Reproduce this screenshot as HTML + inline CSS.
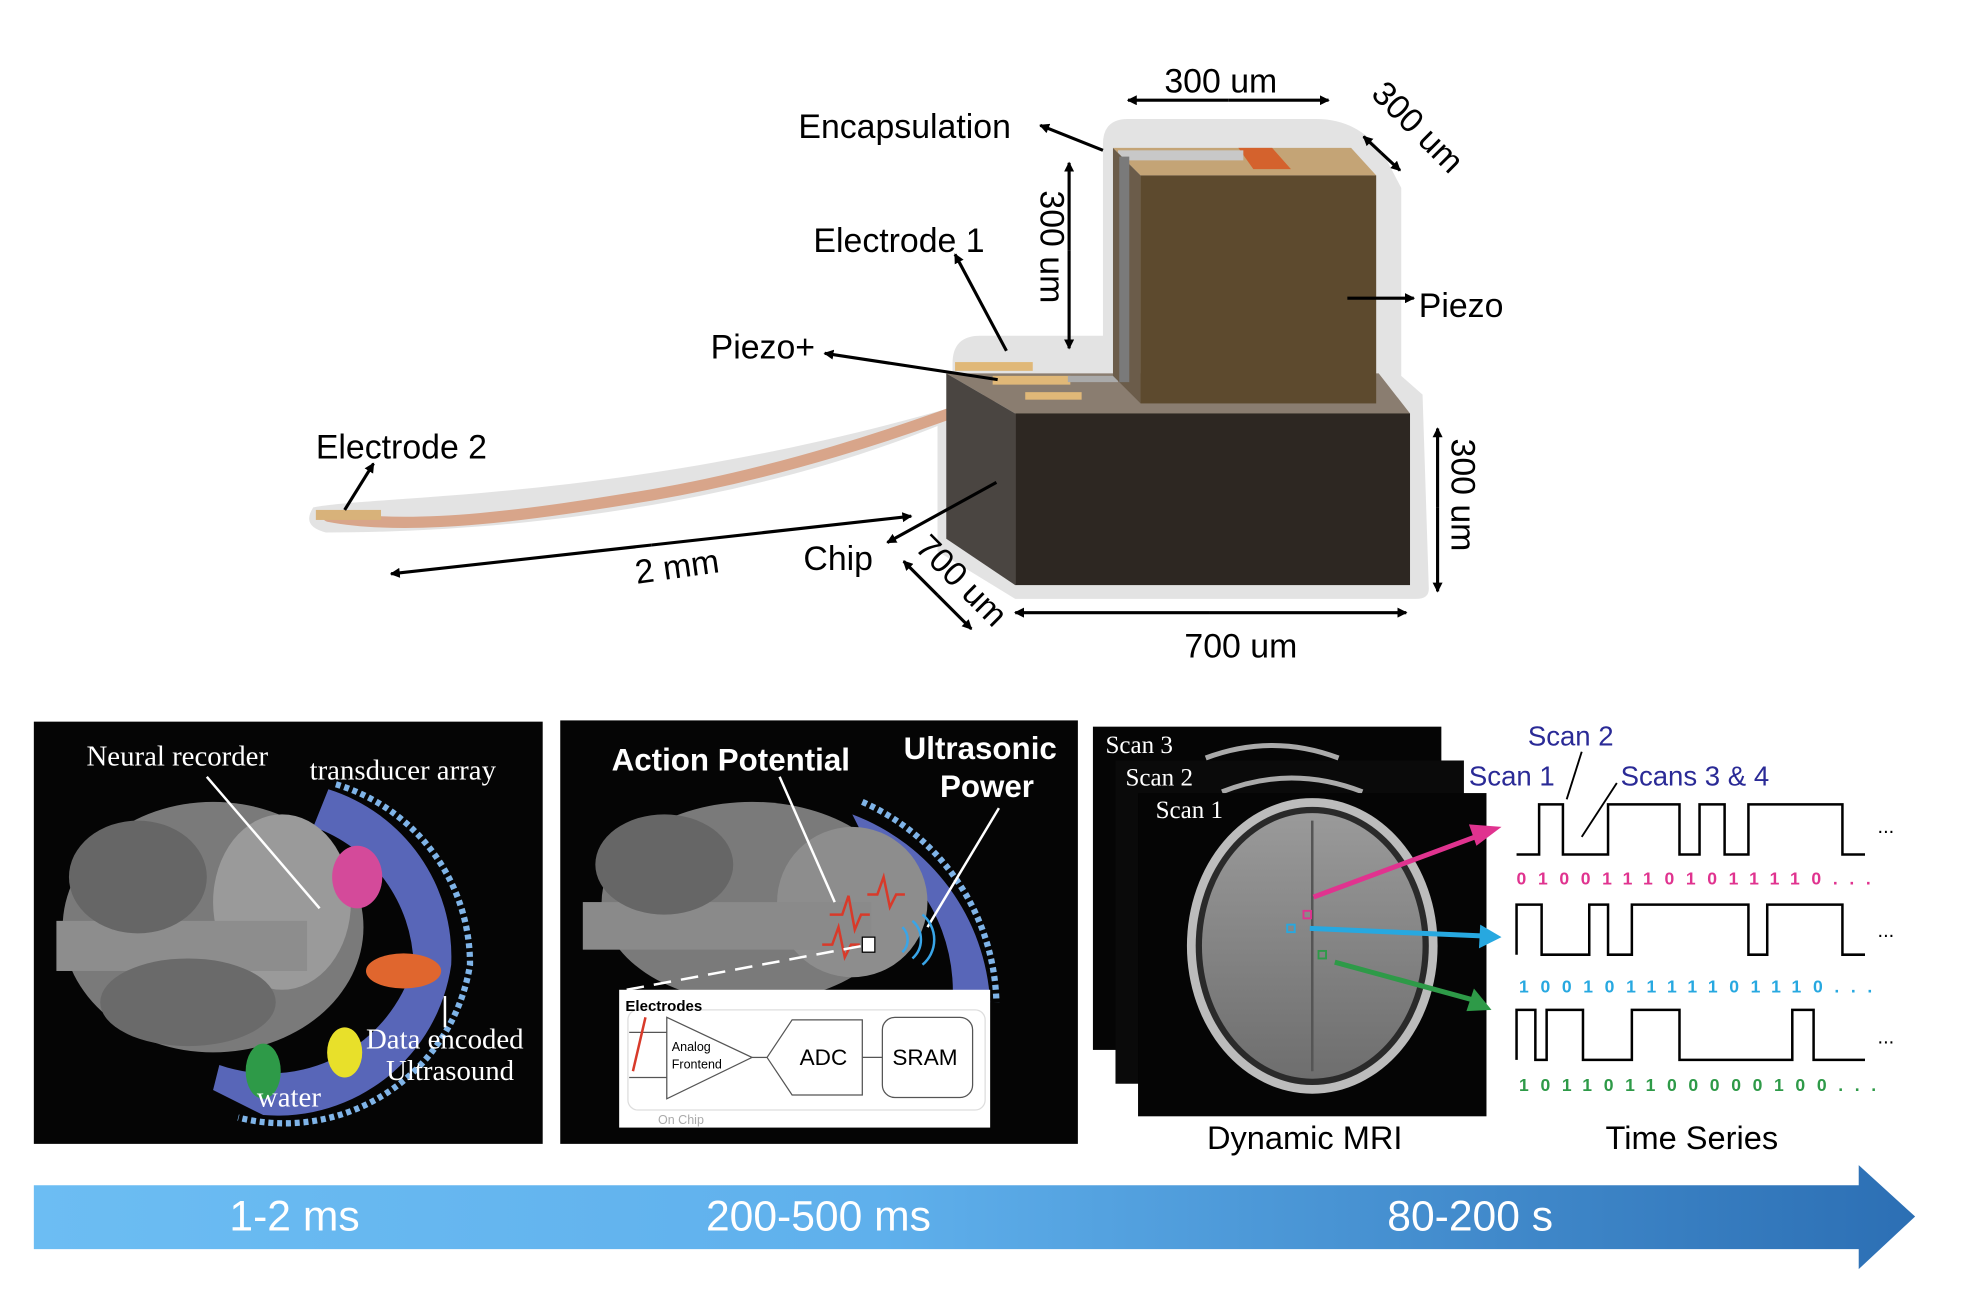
<!DOCTYPE html>
<html><head><meta charset="utf-8"><style>
html,body{margin:0;padding:0;background:#fff;width:1964px;height:1308px;overflow:hidden}
svg{display:block}
text{font-family:"Liberation Sans",sans-serif}
.s{font-family:"Liberation Serif",serif}
</style></head><body>
<svg width="1964" height="1308" viewBox="0 0 1567 1044" preserveAspectRatio="none">
<defs>
<marker id="ah" markerWidth="8" markerHeight="8" refX="7" refY="4" orient="auto" markerUnits="userSpaceOnUse"><path d="M0,0 L8,4 L0,8 z" fill="#000"/></marker>
<linearGradient id="bar" x1="0" x2="1"><stop offset="0" stop-color="#6cbdf3"/><stop offset="0.45" stop-color="#5fb0ec"/><stop offset="1" stop-color="#2c6fb4"/></linearGradient>
<linearGradient id="mri" x1="0" y1="0" x2="0" y2="1"><stop offset="0" stop-color="#9a9a9a"/><stop offset="1" stop-color="#6e6e6e"/></linearGradient>
</defs>

<path d="M250,405 C300,395 500,400 760,325 L760,290 Q760,268 782,268 L880,268 L880,115 Q880,95 900,95 L1050,95 Q1085,95 1105,125 L1118,150 L1118,300 L1135,315 L1140,470 Q1140,478 1130,478 L810,478 L748,440 L748,340 C600,400 420,425 260,425 Q240,420 250,405 z" fill="#d9d9d9" opacity="0.75"/>
<path d="M262,412 C330,425 430,410 520,395 C620,378 720,345 790,318" fill="none" stroke="#d8a58a" stroke-width="9" stroke-linecap="round"/>
<polygon points="755,298 1100,298 1125,330 810,330" fill="#8a7d70"/>
<polygon points="755,298 810,330 810,467 755,430" fill="#4a4541"/>
<rect x="810" y="330" width="315" height="137" fill="#2d2722"/>
<rect x="762" y="289" width="62" height="7" fill="#e0b878"/>
<rect x="792" y="300" width="62" height="7" fill="#e0b878"/>
<rect x="818" y="313" width="45" height="6" fill="#e0b878"/>
<rect x="852" y="300" width="40" height="5" fill="#aaa"/>
<polygon points="888,118 1078,118 1098,140 910,140" fill="#c4a476"/>
<polygon points="988,118 1015,118 1030,135 1000,135" fill="#d4622d"/>
<rect x="892" y="120" width="100" height="8" fill="#c8c8c8"/>
<polygon points="888,118 910,140 910,322 888,300" fill="#6b5c4a"/>
<rect x="893" y="125" width="8" height="180" fill="#7a7a7a"/>
<rect x="910" y="140" width="188" height="182" fill="#5d4a2e"/>
<rect x="252" y="407" width="52" height="8" fill="#d8b27a"/>

<g font-size="27" fill="#000">
<text x="637" y="110">Encapsulation</text>
<text x="649" y="201">Electrode 1</text>
<text x="567" y="286">Piezo+</text>
<text x="252" y="366">Electrode 2</text>
<text x="1132" y="253">Piezo</text>
<text x="641" y="455">Chip</text>
<text x="929" y="74">300 um</text>
<text x="945" y="525">700 um</text>
<text transform="translate(508,466) rotate(-8)">2 mm</text>
<text transform="translate(830,152) rotate(90)">300 um</text>
<text transform="translate(1158,350) rotate(90)">300 um</text>
<text transform="translate(1093,76) rotate(45)">300 um</text>
<text transform="translate(729,438) rotate(45)">700 um</text>
</g>
<g stroke="#000" stroke-width="2.5" fill="none">
<line x1="880" y1="120" x2="830" y2="100" marker-end="url(#ah)"/>
<line x1="803" y1="280" x2="762" y2="203" marker-end="url(#ah)"/>
<line x1="796" y1="303" x2="658" y2="282" marker-end="url(#ah)"/>
<line x1="275" y1="407" x2="298" y2="370" marker-end="url(#ah)"/>
<line x1="1075" y1="238" x2="1128" y2="238" marker-end="url(#ah)"/>
<line x1="795" y1="385" x2="708" y2="433" marker-end="url(#ah)"/>
<line x1="980" y1="80" x2="900" y2="80" marker-end="url(#ah)"/>
<line x1="980" y1="80" x2="1060" y2="80" marker-end="url(#ah)"/>
<line x1="853" y1="200" x2="853" y2="130" marker-end="url(#ah)"/>
<line x1="853" y1="200" x2="853" y2="278" marker-end="url(#ah)"/>
<line x1="1147" y1="405" x2="1147" y2="342" marker-end="url(#ah)"/>
<line x1="1147" y1="405" x2="1147" y2="472" marker-end="url(#ah)"/>
<line x1="965" y1="489" x2="810" y2="489" marker-end="url(#ah)"/>
<line x1="965" y1="489" x2="1122" y2="489" marker-end="url(#ah)"/>
<line x1="1102" y1="122" x2="1088" y2="109" marker-end="url(#ah)"/>
<line x1="1102" y1="122" x2="1117" y2="136" marker-end="url(#ah)"/>
<line x1="748" y1="475" x2="721" y2="448" marker-end="url(#ah)"/>
<line x1="748" y1="475" x2="775" y2="502" marker-end="url(#ah)"/>
<line x1="520" y1="435" x2="312" y2="458" marker-end="url(#ah)"/>
<line x1="520" y1="435" x2="727" y2="412" marker-end="url(#ah)"/>
</g>

<rect x="27" y="576" width="406" height="337" fill="#050505"/>
<path d="M262,630 A140,140 0 0 1 360,770 A140,140 0 0 1 210,890 L170,870 L175,850 A120,120 0 0 0 330,770 A120,120 0 0 0 250,660 z" fill="#5866b8"/>
<path d="M268,626 A150,150 0 0 1 375,770 A150,150 0 0 1 190,892" fill="none" stroke="#7fb4e8" stroke-width="5" stroke-dasharray="4 3"/>
<ellipse cx="170" cy="740" rx="120" ry="100" fill="#7a7a7a"/>
<ellipse cx="225" cy="720" rx="55" ry="70" fill="#9a9a9a"/>
<rect x="45" y="735" width="200" height="40" fill="#8d8d8d"/>
<ellipse cx="110" cy="700" rx="55" ry="45" fill="#666"/>
<ellipse cx="150" cy="800" rx="70" ry="35" fill="#6a6a6a"/>
<ellipse cx="285" cy="700" rx="20" ry="25" fill="#d44a9a"/>
<ellipse cx="322" cy="775" rx="30" ry="14" fill="#e0662e"/>
<ellipse cx="275" cy="840" rx="14" ry="20" fill="#e8e02a"/>
<ellipse cx="210" cy="855" rx="14" ry="22" fill="#2e9a48"/>
<line x1="165" y1="620" x2="255" y2="725" stroke="#fff" stroke-width="2"/>
<line x1="355" y1="820" x2="355" y2="795" stroke="#fff" stroke-width="2"/>
<g font-size="23" fill="#fff">
<text class="s" x="69" y="611">Neural recorder</text>
<text class="s" x="247" y="622">transducer array</text>
<text class="s" x="292" y="837">Data encoded</text>
<text class="s" x="308" y="862">Ultrasound</text>
<text class="s" x="205" y="883">water</text>
</g>

<rect x="447" y="575" width="413" height="338" fill="#050505"/>
<path d="M680,650 A170,170 0 0 1 790,800 L760,800 A140,140 0 0 0 690,670 z" fill="#5866b8"/>
<path d="M688,640 A180,180 0 0 1 795,800" fill="none" stroke="#7fb4e8" stroke-width="5" stroke-dasharray="4 3"/>
<ellipse cx="600" cy="720" rx="120" ry="80" fill="#7a7a7a"/>
<ellipse cx="680" cy="720" rx="60" ry="60" fill="#8d8d8d"/>
<rect x="465" y="720" width="230" height="38" fill="#8a8a8a"/>
<ellipse cx="530" cy="690" rx="55" ry="40" fill="#666"/>
<polyline points="662,730 672,730 677,715 682,742 687,730 694,730" fill="none" stroke="#d83a2a" stroke-width="2"/>
<polyline points="692,714 700,714 705,700 710,724 715,714 722,714" fill="none" stroke="#d83a2a" stroke-width="2"/>
<polyline points="656,754 664,754 669,740 674,764 679,754 686,754" fill="none" stroke="#d83a2a" stroke-width="2"/>
<rect x="688" y="748" width="10" height="12" fill="#fff" stroke="#000"/>
<line x1="500" y1="790" x2="688" y2="755" stroke="#fff" stroke-width="2" stroke-dasharray="14 8"/>
<line x1="622" y1="620" x2="666" y2="720" stroke="#fff" stroke-width="2"/>
<line x1="797" y1="645" x2="740" y2="740" stroke="#fff" stroke-width="2"/>
<path d="M720,740 a14,14 0 0 1 0,20 M728,735 a20,20 0 0 1 0,30 M736,730 a26,26 0 0 1 0,40" fill="none" stroke="#39a5e8" stroke-width="2"/>
<text x="488" y="615" font-size="25" font-weight="bold" fill="#fff">Action Potential</text>
<text x="721" y="606" font-size="25" font-weight="bold" fill="#fff">Ultrasonic</text>
<text x="750" y="636" font-size="25" font-weight="bold" fill="#fff">Power</text>
<rect x="494" y="790" width="296" height="110" fill="#fff"/>
<rect x="501" y="806" width="285" height="80" rx="8" fill="none" stroke="#ddd"/>
<text x="499" y="807" font-size="12" font-weight="bold">Electrodes</text>
<line x1="502" y1="824" x2="532" y2="824" stroke="#555"/>
<line x1="502" y1="860" x2="532" y2="860" stroke="#555"/>
<line x1="515" y1="812" x2="505" y2="855" stroke="#d83a2a" stroke-width="2"/>
<polygon points="532,812 600,844 532,877" fill="#fff" stroke="#555"/>
<text x="536" y="839" font-size="10">Analog</text>
<text x="536" y="853" font-size="10">Frontend</text>
<line x1="600" y1="844" x2="612" y2="844" stroke="#555"/>
<polygon points="612,844 632,814 688,814 688,874 632,874" fill="#fff" stroke="#555"/>
<text x="638" y="850" font-size="18">ADC</text>
<line x1="688" y1="844" x2="704" y2="844" stroke="#555"/>
<rect x="704" y="812" width="72" height="64" rx="10" fill="#fff" stroke="#555"/>
<text x="712" y="850" font-size="18">SRAM</text>
<text x="525" y="897" font-size="10" fill="#aaa">On Chip</text>

<rect x="872" y="580" width="278" height="258" fill="#050505"/>
<rect x="890" y="607" width="278" height="258" fill="#0a0a0a"/>
<path d="M962,605 Q1015,585 1068,605" fill="none" stroke="#aaa" stroke-width="4"/>
<path d="M975,632 Q1030,610 1087,632" fill="none" stroke="#aaa" stroke-width="4"/>
<rect x="908" y="633" width="278" height="258" fill="#050505"/>
<ellipse cx="1047" cy="755" rx="100" ry="118" fill="#bcbcbc"/>
<ellipse cx="1047" cy="755" rx="93" ry="111" fill="#2a2a2a"/>
<ellipse cx="1047" cy="755" rx="88" ry="106" fill="url(#mri)"/>
<line x1="1047" y1="655" x2="1047" y2="855" stroke="#555" stroke-width="2"/>
<g font-size="20" fill="#fff">
<text class="s" x="882" y="601">Scan 3</text>
<text class="s" x="898" y="627">Scan 2</text>
<text class="s" x="922" y="653">Scan 1</text>
</g>
<rect x="1040" y="727" width="6" height="6" fill="none" stroke="#e0338f" stroke-width="1.5"/>
<rect x="1027" y="738" width="6" height="6" fill="none" stroke="#27a8e0" stroke-width="1.5"/>
<rect x="1052" y="759" width="6" height="6" fill="none" stroke="#2e9a48" stroke-width="1.5"/>
<line x1="1048" y1="716" x2="1185" y2="665" stroke="#e0338f" stroke-width="4"/>
<polygon points="1198,660 1178,675 1172,658" fill="#e0338f"/>
<line x1="1045" y1="741" x2="1182" y2="747" stroke="#27a8e0" stroke-width="4"/>
<polygon points="1198,748 1180,757 1181,738" fill="#27a8e0"/>
<line x1="1065" y1="768" x2="1175" y2="798" stroke="#2e9a48" stroke-width="4"/>
<polygon points="1190,806 1170,807 1176,789" fill="#2e9a48"/>
<text x="963" y="917" font-size="26">Dynamic MRI</text>
<text x="1281" y="917" font-size="26">Time Series</text>

<g font-size="22" fill="#2a2a96">
<text x="1219" y="595">Scan 2</text>
<text x="1172" y="627">Scan 1</text>
<text x="1293" y="627">Scans 3 &amp; 4</text>
</g>
<line x1="1262" y1="600" x2="1250" y2="638" stroke="#000" stroke-width="1.5"/>
<line x1="1290" y1="625" x2="1262" y2="668" stroke="#000" stroke-width="1.5"/>
<g fill="none" stroke="#000" stroke-width="2">
<polyline points="1210,682 1228,682 1228,642 1247,642 1247,682 1283,682 1283,642 1340,642 1340,682 1356,682 1356,642 1376,642 1376,682 1395,682 1395,642 1470,642 1470,682 1488,682"/>
<polyline points="1210,762 1210,722 1230,722 1230,762 1268,762 1268,722 1283,722 1283,762 1302,762 1302,722 1395,722 1395,762 1410,762 1410,722 1470,722 1470,762 1488,762"/>
<polyline points="1210,846 1210,806 1225,806 1225,846 1234,846 1234,806 1263,806 1263,846 1302,846 1302,806 1340,806 1340,846 1430,846 1430,806 1447,806 1447,846 1488,846"/>
</g>
<text x="1498" y="665" font-size="16">...</text>
<text x="1498" y="748" font-size="16">...</text>
<text x="1498" y="833" font-size="16">...</text>
<g font-size="14" font-weight="bold">
<text x="1210" y="706" fill="#e0338f" letter-spacing="9.3">010011101011110...</text>
<text x="1212" y="792" fill="#27a8e0" letter-spacing="9.3">100101111101110...</text>
<text x="1212" y="871" fill="#2e9a48" letter-spacing="9.3">101101100000100...</text>
</g>

<path d="M27,946 L1483,946 L1483,930 L1528,971 L1483,1013 L1483,997 L27,997 z" fill="url(#bar)"/>
<g font-size="34" fill="#fff" text-anchor="middle">
<text x="235" y="982">1-2 ms</text>
<text x="653" y="982">200-500 ms</text>
<text x="1173" y="982">80-200 s</text>
</g>
</svg>
</body></html>
